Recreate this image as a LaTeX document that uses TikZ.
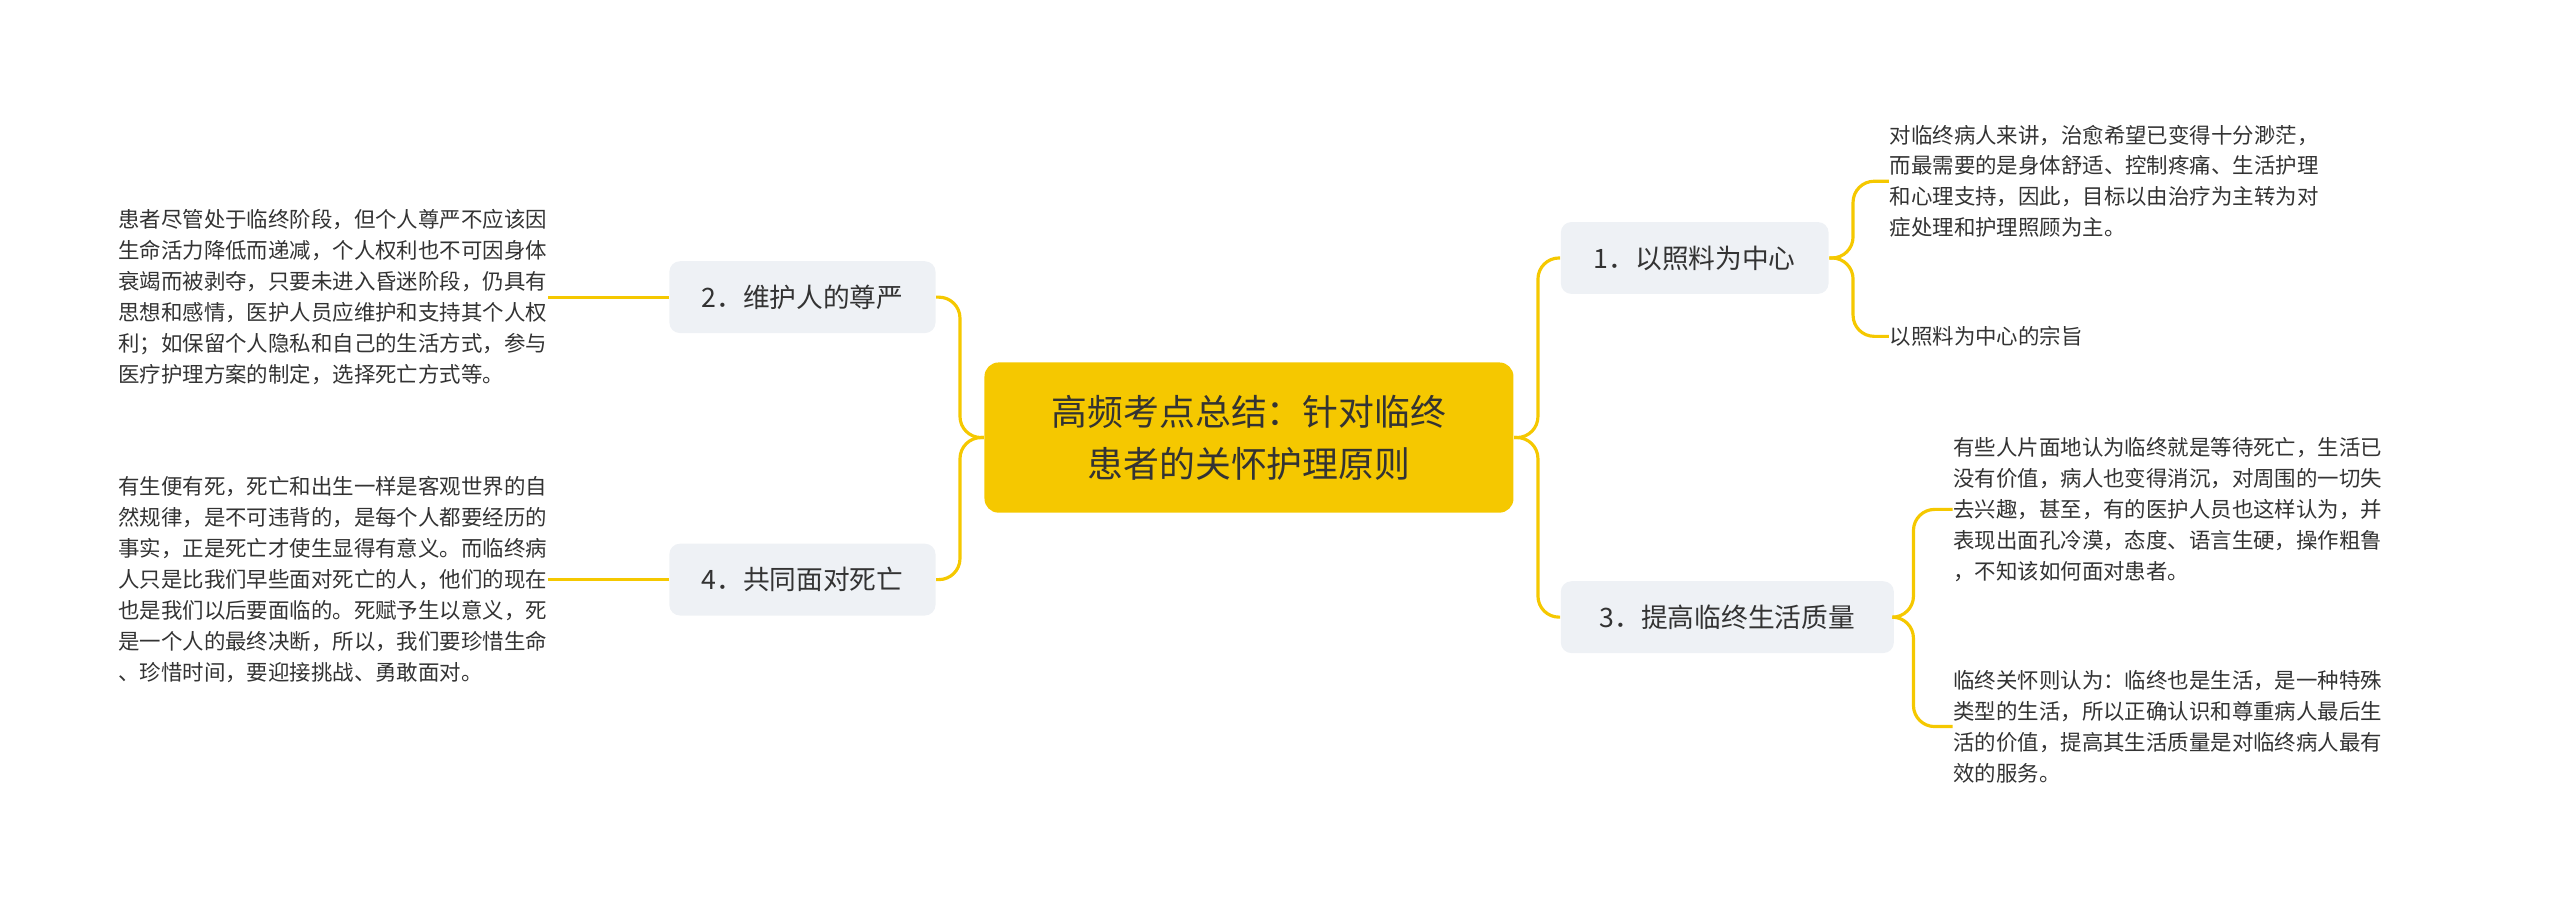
\documentclass[tikz,border=0pt]{standalone}
\usepackage{fontspec}
\setmainfont{Noto Sans CJK SC}
\definecolor{gold}{HTML}{F5C800}
\definecolor{boxg}{HTML}{EEF1F5}
\definecolor{txt}{HTML}{333333}
\begin{document}
\begin{tikzpicture}[x=0.016327cm,y=-0.016327cm,
  sub/.style={fill=boxg,rounded corners=3pt,inner sep=0pt,text=txt,font=\fontsize{7.6pt}{9pt}\selectfont},
  leaf/.style={inner sep=0pt,text=txt,align=left,font=\fontsize{6.1pt}{8.8pt}\selectfont},
  con/.style={gold,line width=0.9pt,rounded corners=6pt}]
\useasboundingbox (0,0) rectangle (1568,555);
\node[fill=gold,rounded corners=4pt,minimum width=324*0.016327cm,minimum height=92*0.016327cm,align=center,text=txt,font=\fontsize{10.2pt}{14.8pt}\selectfont] (c) at (765,268) {高频考点总结：针对临终\\患者的关怀护理原则};
\node[sub,minimum width=163*0.016327cm,minimum height=44*0.016327cm] (b2) at (491.5,182) {2．维护人的尊严};
\node[sub,minimum width=163*0.016327cm,minimum height=44*0.016327cm] (b4) at (491.5,355) {4．共同面对死亡};
\node[sub,minimum width=164*0.016327cm,minimum height=44*0.016327cm] (b1) at (1038,158) {1．以照料为中心};
\node[sub,minimum width=204*0.016327cm,minimum height=44*0.016327cm] (b3) at (1058,378) {3．提高临终生活质量};
\node[leaf,anchor=west] (t2) at (72,182) {患者尽管处于临终阶段，但个人尊严不应该因\\生命活力降低而递减，个人权利也不可因身体\\衰竭而被剥夺，只要未进入昏迷阶段，仍具有\\思想和感情，医护人员应维护和支持其个人权\\利；如保留个人隐私和自己的生活方式，参与\\医疗护理方案的制定，选择死亡方式等。};
\node[leaf,anchor=west] (t4) at (72,355) {有生便有死，死亡和出生一样是客观世界的自\\然规律，是不可违背的，是每个人都要经历的\\事实，正是死亡才使生显得有意义。而临终病\\人只是比我们早些面对死亡的人，他们的现在\\也是我们以后要面临的。死赋予生以意义，死\\是一个人的最终决断，所以，我们要珍惜生命\\、珍惜时间，要迎接挑战、勇敢面对。};
\node[leaf,anchor=west] (t1a) at (1157,111) {对临终病人来讲，治愈希望已变得十分渺茫，\\而最需要的是身体舒适、控制疼痛、生活护理\\和心理支持，因此，目标以由治疗为主转为对\\症处理和护理照顾为主。};
\node[leaf,anchor=west] (t1b) at (1157,206) {以照料为中心的宗旨};
\node[leaf,anchor=west] (t3a) at (1196,312) {有些人片面地认为临终就是等待死亡，生活已\\没有价值，病人也变得消沉，对周围的一切失\\去兴趣，甚至，有的医护人员也这样认为，并\\表现出面孔冷漠，态度、语言生硬，操作粗鲁\\，不知该如何面对患者。};
\node[leaf,anchor=west] (t3b) at (1196,445) {临终关怀则认为：临终也是生活，是一种特殊\\类型的生活，所以正确认识和尊重病人最后生\\活的价值，提高其生活质量是对临终病人最有\\效的服务。};
\draw[con] (c.east) -- (942,268) |- (b1.west);
\draw[con] (c.east) -- (942,268) |- (b3.west);
\draw[con] (c.west) -- (588,268) |- (b2.east);
\draw[con] (c.west) -- (588,268) |- (b4.east);
\draw[con] (b1.east) -- (1135,158) |- (t1a.west);
\draw[con] (b1.east) -- (1135,158) |- (t1b.west);
\draw[con] (b3.east) -- (1172,378) |- (t3a.west);
\draw[con] (b3.east) -- (1172,378) |- (t3b.west);
\draw[con] (b2.west) -- (t2.east);
\draw[con] (b4.west) -- (t4.east);
\end{tikzpicture}
\end{document}
